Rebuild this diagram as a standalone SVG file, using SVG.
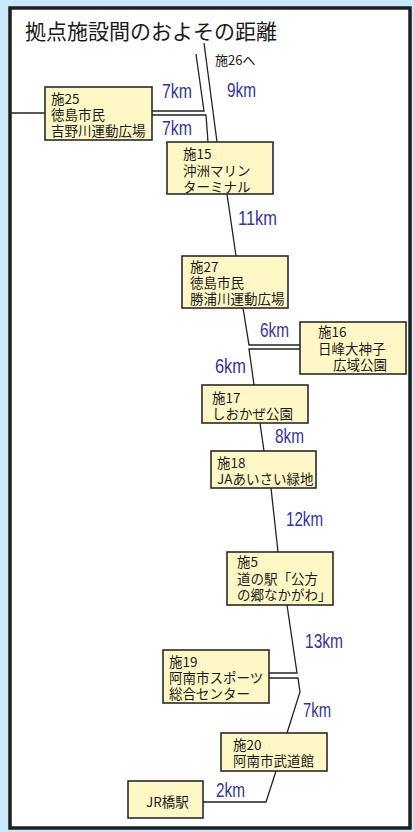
<svg xmlns="http://www.w3.org/2000/svg" width="414" height="832" viewBox="0 0 414 832">
<style>
.bx{fill:#fff8c6;stroke:#2a2a2a;stroke-width:1.6}
.t{font-family:"Noto Sans CJK JP","Noto Sans",sans-serif;font-size:13.5px;fill:#1a1a1a}
.km{font-family:"Liberation Sans",Arial,sans-serif;font-size:21px;fill:#33339a}
.ln{fill:none;stroke:#222;stroke-width:1.3}
</style>
<rect x="0" y="0" width="414" height="832" fill="#c8e9f9"/>
<rect x="10" y="8" width="400" height="820" fill="#ffffff" stroke="#1e1e1e" stroke-width="3.5"/>
<text x="25" y="39" style="font-family:'Noto Sans CJK JP',sans-serif;font-size:21px;fill:#1a1a1a">拠点施設間のおよその距離</text>
<g id="connectors">
<path class="ln" d="M196,54 L204,111 L152,111"/>
<path class="ln" d="M152,115 L206,115 L208,142"/>
<path class="ln" d="M204,43 L217,142"/>
<path class="ln" d="M10,113 L45,113"/>
<path class="ln" d="M227,194 L236,256"/>
<path class="ln" d="M243,308 L249,345 L300,345"/>
<path class="ln" d="M300,349 L249,349 L254,385"/>
<path class="ln" d="M260,423 L264,451"/>
<path class="ln" d="M271,488 L278,552"/>
<path class="ln" d="M287,605 L297,673 L269,673"/>
<path class="ln" d="M269,678 L298,678 L300,692 L287,733"/>
<path class="ln" d="M276,771 L266,802 L203,802"/>
</g>
<g id="labels">
<text class="t" x="215" y="65" style="font-size:13px">施26へ</text>
<text class="km" x="162" y="98" textLength="30" lengthAdjust="spacingAndGlyphs">7km</text>
<text class="km" x="162" y="135" textLength="30" lengthAdjust="spacingAndGlyphs">7km</text>
<text class="km" x="227" y="97" textLength="29" lengthAdjust="spacingAndGlyphs">9km</text>
<text class="km" x="238" y="225" textLength="39" lengthAdjust="spacingAndGlyphs">11km</text>
<text class="km" x="260" y="337" textLength="29" lengthAdjust="spacingAndGlyphs">6km</text>
<text class="km" x="215" y="373" textLength="31" lengthAdjust="spacingAndGlyphs">6km</text>
<text class="km" x="275" y="443" textLength="29" lengthAdjust="spacingAndGlyphs">8km</text>
<text class="km" x="286" y="526" textLength="37" lengthAdjust="spacingAndGlyphs">12km</text>
<text class="km" x="305" y="648" textLength="38" lengthAdjust="spacingAndGlyphs">13km</text>
<text class="km" x="303" y="717" textLength="28" lengthAdjust="spacingAndGlyphs">7km</text>
<text class="km" x="216" y="797" textLength="29" lengthAdjust="spacingAndGlyphs">2km</text>
</g>
<g id="n25">
<rect class="bx" x="45" y="87" width="107" height="53"/>
<text class="t" x="51" y="104">施25</text>
<text class="t" x="51" y="120">徳島市民</text>
<text class="t" x="51" y="136">吉野川運動広場</text>
</g>
<g id="n15">
<rect class="bx" x="167" y="142" width="106" height="52"/>
<text class="t" x="183" y="159">施15</text>
<text class="t" x="183" y="175.5">沖洲マリン</text>
<text class="t" x="183" y="192">ターミナル</text>
</g>
<g id="n27">
<rect class="bx" x="182" y="256" width="106" height="52"/>
<text class="t" x="190" y="272">施27</text>
<text class="t" x="190" y="288">徳島市民</text>
<text class="t" x="190" y="304">勝浦川運動広場</text>
</g>
<g id="n16">
<rect class="bx" x="300" y="322" width="106" height="52"/>
<text class="t" x="318" y="337">施16</text>
<text class="t" x="318" y="354">日峰大神子</text>
<text class="t" x="333" y="370">広域公園</text>
</g>
<g id="n17">
<rect class="bx" x="202" y="385" width="106" height="38"/>
<text class="t" x="212" y="403">施17</text>
<text class="t" x="212" y="419">しおかぜ公園</text>
</g>
<g id="n18">
<rect class="bx" x="211" y="451" width="105" height="37"/>
<text class="t" x="217" y="468">施18</text>
<text class="t" x="217" y="484">JAあいさい緑地</text>
</g>
<g id="n5">
<rect class="bx" x="227" y="552" width="106" height="53"/>
<text class="t" x="237" y="567">施5</text>
<text class="t" x="237" y="584">道の駅「公方</text>
<text class="t" x="237" y="600">の郷なかがわ」</text>
</g>
<g id="n19">
<rect class="bx" x="163" y="650" width="106" height="53"/>
<text class="t" x="169" y="667">施19</text>
<text class="t" x="169" y="683">阿南市スポーツ</text>
<text class="t" x="169" y="699">総合センター</text>
</g>
<g id="n20">
<rect class="bx" x="221" y="733" width="106" height="38"/>
<text class="t" x="233" y="750">施20</text>
<text class="t" x="233" y="766">阿南市武道館</text>
</g>
<g id="jr">
<rect class="bx" x="128" y="781" width="75" height="37"/>
<text class="t" x="146" y="807">JR橋駅</text>
</g>
</svg>
